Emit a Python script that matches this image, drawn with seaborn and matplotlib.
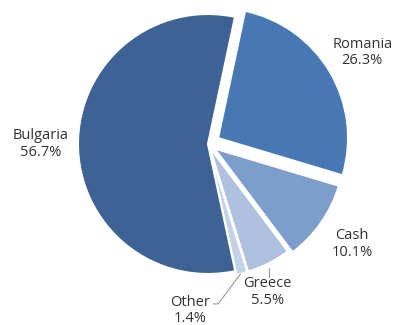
import matplotlib
matplotlib.use("Agg")
import matplotlib.pyplot as plt
import seaborn as sns
import numpy as np

categories = ["Romania", "Cash", "Greece", "Other", "Bulgaria"]
shares = [26.3, 10.1, 5.5, 1.4, 56.7]
pct_labels = ["26.3%", "10.1%", "5.5%", "1.4%", "56.7%"]
colors = ["#4878B3", "#7D9DCB", "#AFC1DF", "#C4D2E8", "#3D6394"]
explode = [0.09, 0.06, 0.03, 0.03, 0.0]

sns.set_theme(style="white")
plt.rcParams['font.family'] = ['Open Sans', 'DejaVu Sans']

fig = plt.figure(figsize=(4.03, 3.25), dpi=100)
ax = fig.add_axes([0, 0, 1, 1])

wedges, texts = ax.pie(
    shares, colors=colors, explode=explode, startangle=78, counterclock=False,
    labels=[f"{c}\n{p}" for c, p in zip(categories, pct_labels)],
    labeldistance=1.29, radius=1.0,
    wedgeprops=dict(edgecolor="white", linewidth=1.5),
    textprops=dict(fontsize=10.5, color="#333333", linespacing=1.15),
)
for t in texts:
    t.set_ha("center")
    t.set_va("center")
    t.set_multialignment("center")

# Greece and Other labels with leader lines
texts[2].set_position((0.46, -1.14))
texts[3].set_position((-0.14, -1.28))
ax.plot([0.47, 0.47], [-0.95, -1.02], color="#999999", lw=0.8)
ax.plot([0.25, 0.078, 0.04], [-1.0, -1.23, -1.23], color="#999999", lw=0.8)

ax.set_xlim(-208 / 130, 195 / 130)
ax.set_ylim(-181 / 130, 144 / 130)
ax.set_aspect("equal")
ax.axis("off")

fig.savefig("out.png", dpi=100, facecolor="white")
